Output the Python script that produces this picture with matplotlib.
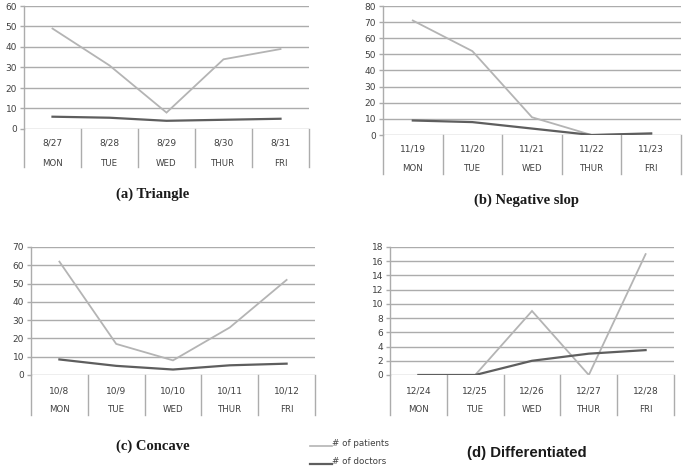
import matplotlib
matplotlib.use("Agg")
import matplotlib.pyplot as plt
import numpy as np

days = ["MON", "TUE", "WED", "THUR", "FRI"]

dates_a = ["8/27", "8/28", "8/29", "8/30", "8/31"]
patients_a = [49, 31, 8, 34, 39]
doctors_a = [6, 5.5, 4, 4.5, 5]

dates_b = ["11/19", "11/20", "11/21", "11/22", "11/23"]
patients_b = [71, 52, 11, 0, 0.5]
doctors_b = [9, 8, 4, 0, 1]

dates_c = ["10/8", "10/9", "10/10", "10/11", "10/12"]
patients_c = [62, 17, 8, 26, 52]
doctors_c = [8.5, 5, 3, 5.3, 6.2]

dates_d = ["12/24", "12/25", "12/26", "12/27", "12/28"]
patients_d = [0, 0, 9, 0, 17]
doctors_d = [0, 0, 2, 3, 3.5]

titles = ["(a) Triangle", "(b) Negative slop", "(c) Concave", "(d) Differentiated"]
yticks_a = [0, 10, 20, 30, 40, 50, 60]
yticks_b = [0, 10, 20, 30, 40, 50, 60, 70, 80]
yticks_c = [0, 10, 20, 30, 40, 50, 60, 70]
yticks_d = [0, 2, 4, 6, 8, 10, 12, 14, 16, 18]

legend_labels = ["# of patients", "# of doctors"]

W, H = 685, 469
fig = plt.figure(figsize=(W / 100, H / 100), dpi=100)

PAT_C = "#b4b4b4"
DOC_C = "#5e5e5e"
GRID_C = "#acacac"
TXT_C = "#404040"

def fx(x):
    return x / W

def fy(y):
    return 1 - y / H

panels = [
    (24, 309, 6, 129, 167, 143, 163, dates_a, patients_a, doctors_a, yticks_a, titles[0], 153, 194, "serif"),
    (383, 681, 6, 135, 174, 149, 168, dates_b, patients_b, doctors_b, yticks_b, titles[1], 527, 200, "serif"),
    (31, 315, 247, 375, 415, 391, 409, dates_c, patients_c, doctors_c, yticks_c, titles[2], 153, 446, "serif"),
    (390, 674, 247, 375, 415, 391, 409, dates_d, patients_d, doctors_d, yticks_d, titles[3], 527, 453, "sans"),
]

for (L, R, T, B, LB, DY, WY, dates, pats, docs, yt, title, tx, ty, tf) in panels:
    ax = fig.add_axes([fx(L), fy(B), fx(R) - fx(L), fy(T) - fy(B)])
    x = np.arange(len(days))
    ax.set_xlim(-0.5, len(days) - 0.5)
    ax.set_ylim(yt[0], yt[-1])
    ax.set_yticks(yt)
    ax.set_yticklabels([str(v) for v in yt])
    for v in yt:
        ax.axhline(v, color=GRID_C, lw=1.0, zorder=1)
    ax.plot(x, pats, color=PAT_C, lw=1.3, zorder=3, solid_joinstyle="miter")
    ax.plot(x, docs, color=DOC_C, lw=1.6, zorder=4, solid_joinstyle="miter")
    for s in ["top", "right", "bottom"]:
        ax.spines[s].set_visible(False)
    ax.spines["left"].set_color(GRID_C)
    ax.spines["left"].set_linewidth(1.0)
    ax.tick_params(axis="y", length=3, color=GRID_C, width=1.0, labelsize=6.5,
                   labelcolor=TXT_C, pad=2)
    ax.set_xticks([])
    frac = (LB - B) / (B - T)
    trans = ax.get_xaxis_transform()
    for xs in np.arange(-0.5, len(days), 1.0):
        ax.plot([xs, xs], [0, -frac], transform=trans, color=GRID_C, lw=1.0,
                clip_on=False, zorder=1)
    for i in range(len(days)):
        ax.text(x[i], -(DY - B) / (B - T), dates[i], transform=trans, ha="center",
                va="center", fontsize=6.5, color=TXT_C)
        ax.text(x[i], -(WY - B) / (B - T), days[i], transform=trans, ha="center",
                va="center", fontsize=6.2, color=TXT_C)
    if tf == "serif":
        fig.text(fx(tx), fy(ty), title, ha="center", va="center",
                 fontfamily="Liberation Serif", fontweight="bold", fontsize=10.5, color="#1a1a1a")
    else:
        fig.text(fx(tx), fy(ty), title, ha="center", va="center",
                 fontfamily="Liberation Sans", fontweight="bold", fontsize=10.8, color="#1a1a1a")

leg_ax = fig.add_axes([0, 0, 1, 1], facecolor="none")
leg_ax.set_xlim(0, W)
leg_ax.set_ylim(H, 0)
leg_ax.axis("off")
leg_ax.plot([310, 332], [446, 446], color=PAT_C, lw=1.2)
leg_ax.plot([310, 332], [464, 464], color=DOC_C, lw=1.6)
leg_ax.text(332, 444, legend_labels[0], ha="left", va="center", fontsize=6.3, color=TXT_C)
leg_ax.text(332, 462, legend_labels[1], ha="left", va="center", fontsize=6.3, color=TXT_C)

fig.savefig("out.png", dpi=100, facecolor="white")
